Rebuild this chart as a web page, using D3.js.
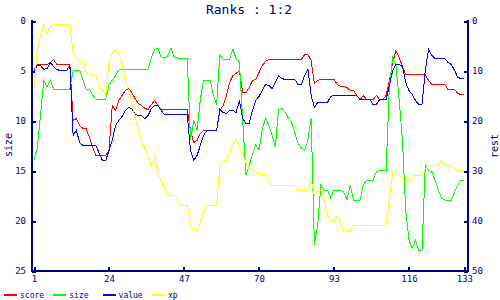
<!DOCTYPE html>
<html>
<meta charset="utf-8">
<style>
    body { margin: 0; background: #fff; }
    text { font-family: "DejaVu Sans Mono", monospace; fill: #000080; }
    .line { fill: none; stroke-width: 1; shape-rendering: crispEdges; }
</style>
<body>
<script src="https://cdn.jsdelivr.net/npm/d3@7"></script>
<div id="chart"></div>
<script>
// x positions 1..133
var xTicks = [1, 24, 47, 70, 93, 116, 133];
var sizeTicks = [0, 5, 10, 15, 20, 25];
var restTicks = [0, 10, 20, 30, 40, 50];

// size is read on the left axis, the rest on the right axis
var score = [
  9.9, 8.7, 8.7, 8.7, 8.7, 8.3, 7.7, 8.7, 8.7, 8.7,
  8.7, 8.7, 19.9, 19.5, 20.9, 21.5, 21.5, 23.3, 25.3, 26.9,
  26.9, 26.9, 26.9, 25.9, 16.9, 17.9, 15.9, 14.9, 13.9, 13.5,
  14.3, 15.5, 16.5, 16.9, 17.5, 17.7, 16.7, 15.9, 16.9, 17.7,
  17.7, 17.7, 17.7, 17.7, 17.7, 17.7, 17.7, 17.7, 21.9, 24.3,
  23.9, 22.5, 21.9, 21.9, 21.9, 21.9, 21.9, 17.9, 16.9, 14.9,
  12.3, 10.9, 10.5, 9.9, 14.3, 14.3, 13.3, 11.9, 11.7, 10.3,
  8.9, 8.1, 7.7, 7.7, 7.7, 7.7, 7.7, 7.7, 7.7, 7.7,
  7.7, 7.7, 7.7, 6.7, 6.7, 7.9, 12.5, 11.9, 11.7, 11.7,
  11.7, 11.7, 11.7, 12.7, 13.1, 13.1, 13.3, 13.9, 13.9, 14.9,
  15.7, 14.9, 15.7, 15.7, 15.7, 14.9, 15.7, 15.7, 14.9, 11.9,
  8.3, 5.9, 7.3, 9.1, 10.7, 10.7, 10.7, 10.7, 10.7, 10.7,
  10.7, 11.9, 12.7, 12.7, 12.7, 12.7, 12.7, 13.7, 13.7, 13.7,
  14.5, 14.7, 14.7
];
var size = [
  13.9, 12.7, 9.4, 6.0, 6.6, 5.9, 6.8, 6.8, 6.8, 6.8,
  6.8, 6.8, 4.9, 4.9, 4.9, 5.9, 6.8, 6.8, 7.4, 7.8,
  7.8, 7.8, 7.8, 6.4, 5.9, 5.5, 4.9, 4.8, 4.8, 4.8,
  4.8, 4.8, 4.8, 4.8, 4.8, 4.8, 3.7, 2.8, 2.7, 3.6,
  3.7, 3.5, 2.7, 3.6, 3.7, 3.7, 3.7, 3.7, 11.9, 9.9,
  10.9, 7.9, 5.9, 5.9, 5.9, 7.4, 8.4, 3.4, 3.8, 3.8,
  3.8, 2.8, 3.8, 4.1, 9.9, 15.4, 14.4, 13.4, 12.4, 12.9,
  10.9, 9.7, 10.4, 11.4, 12.6, 8.9, 8.7, 9.1, 9.7, 10.1,
  11.2, 12.2, 12.7, 12.9, 11.9, 9.7, 22.4, 20.4, 16.4, 16.9,
  16.9, 17.7, 16.9, 16.9, 16.9, 17.1, 17.9, 16.4, 17.9, 17.9,
  17.9, 16.4, 15.9, 15.9, 15.9, 15.1, 14.9, 14.9, 14.9, 6.4,
  3.7, 4.4, 7.9, 11.9, 18.9, 21.9, 22.7, 21.9, 22.9, 22.9,
  14.4, 14.9, 15.1, 15.9, 16.9, 17.7, 17.9, 17.9, 17.9, 17.1,
  16.4, 15.9, 15.9
];
var value = [
  10.3, 8.9, 8.9, 9.7, 9.5, 8.3, 9.1, 9.7, 9.9, 9.9,
  9.9, 8.9, 22.9, 21.9, 24.3, 24.9, 24.9, 24.9, 24.9, 24.9,
  26.5, 27.9, 27.9, 25.9, 23.9, 20.9, 19.9, 19.1, 17.9, 17.3,
  17.5, 18.7, 18.9, 18.9, 19.5, 18.9, 17.5, 16.9, 16.9, 17.9,
  18.7, 18.7, 18.7, 18.7, 18.7, 18.7, 18.7, 18.7, 25.9, 27.9,
  26.9, 24.9, 22.9, 21.9, 21.9, 21.9, 21.9, 17.7, 18.3, 18.5,
  17.9, 17.9, 18.3, 15.9, 19.5, 20.5, 20.5, 17.9, 15.9, 15.1,
  13.9, 12.7, 12.9, 13.5, 12.3, 10.9, 11.5, 11.7, 11.7, 11.7,
  11.7, 12.7, 12.7, 10.9, 9.7, 14.9, 17.3, 16.3, 16.3, 16.3,
  16.3, 15.1, 14.9, 14.9, 14.9, 14.9, 14.9, 14.9, 14.9, 14.9,
  15.7, 15.7, 15.7, 15.7, 16.7, 16.7, 15.7, 15.7, 15.7, 12.9,
  9.9, 8.7, 8.7, 9.1, 12.3, 13.9, 14.7, 15.9, 16.7, 16.7,
  9.9, 5.7, 6.9, 7.5, 7.5, 7.5, 7.5, 8.3, 8.7, 9.9,
  11.3, 11.5, 11.5
];
var xp = [
  13.5, 6, 2.9, 0.7, 2.5, 1.2, 0.7, 0.7, 0.7, 0.7,
  0.7, 0.7, 6.2, 7.5, 7.9, 7.9, 10.2, 10.7, 10.7, 11,
  13.3, 13.7, 14.9, 8.5, 6.5, 5.7, 6.5, 8.5, 11.9, 13.9,
  16.5, 19.2, 21.9, 24.2, 25.4, 27.3, 28.9, 27.1, 30.5, 31.9,
  33.3, 34.7, 34.9, 34.9, 35.5, 36.9, 36.9, 36.9, 40.9, 41.9,
  41.9, 40.3, 38.5, 37.1, 36.9, 36.9, 36.9, 28.9, 27.9, 27.9,
  26.3, 24.9, 23.7, 25.1, 26.9, 28.3, 29.7, 29.9, 30.1, 30.7,
  30.7, 30.7, 31.9, 32.9, 32.9, 32.9, 32.9, 32.9, 32.9, 32.9,
  32.9, 33.9, 33.9, 33.9, 33.9, 31.9, 34.9, 33.9, 33.9, 35.9,
  38.9, 39.9, 39.9, 38.9, 40.3, 41.9, 41.9, 41.9, 40.9, 40.9,
  40.9, 40.9, 40.9, 40.9, 40.9, 40.9, 40.9, 40.9, 40.9, 35.5,
  30.3, 29.9, 30.7, 31.7, 31.9, 31.9, 31.1, 30.9, 30.9, 30.9,
  29.5, 28.9, 28.9, 28.9, 28.9, 27.9, 28.7, 28.9, 28.9, 29.5,
  29.9, 29.9, 29.9
];

var names = ["score", "size", "value", "xp"];
var colors = ["#ff0000", "#00ff00", "#0000ff", "#ffff00"];

var width = 500, height = 300;
var plotLeft = 32, plotRight = 468, plotTop = 21, plotBottom = 271;

var svg = d3.select("#chart").append("svg")
    .attr("width", width)
    .attr("height", height);

var x = d3.scaleLinear().domain([1, 133]).range([34, 464.4]);
var ySize = d3.scaleLinear().domain([0, 25]).range([plotTop, plotBottom]);
var yRest = d3.scaleLinear().domain([0, 50]).range([plotTop, plotBottom]);

// title
svg.append("text")
    .attr("x", 249)
    .attr("y", 14)
    .attr("text-anchor", "middle")
    .style("font-size", "13px")
    .text("Ranks : 1:2");

// axes
var gLeft = svg.append("g")
    .attr("transform", "translate(" + plotLeft + ",0)")
    .call(d3.axisLeft(ySize).tickValues(sizeTicks).tickSizeInner(-4).tickSizeOuter(0).tickPadding(6));
var gRight = svg.append("g")
    .attr("transform", "translate(" + plotRight + ",0)")
    .call(d3.axisRight(yRest).tickValues(restTicks).tickSizeInner(-4).tickSizeOuter(0).tickPadding(4));
var gBottom = svg.append("g")
    .attr("transform", "translate(0," + plotBottom + ")")
    .call(d3.axisBottom(x).tickValues(xTicks).tickSizeInner(-4).tickSizeOuter(0).tickPadding(5));

[gLeft, gRight, gBottom].forEach(function(g) {
    g.select(".domain").remove();
    g.selectAll("line").attr("stroke", "#000080").attr("stroke-width", 2).style("shape-rendering", "crispEdges");
    g.selectAll("text").attr("fill", "#000080").style("font-size", "9px").style("font-family", "DejaVu Sans Mono");
});

// axis lines
var axisLines = [
    [plotLeft, plotTop - 1, plotLeft, plotBottom + 1],
    [plotRight, plotTop - 1, plotRight, plotBottom + 1],
    [plotLeft, plotBottom, plotRight, plotBottom]
];
svg.selectAll(".axisline")
    .data(axisLines)
    .enter().append("line")
    .attr("class", "axisline")
    .attr("x1", function(d) { return d[0]; })
    .attr("y1", function(d) { return d[1]; })
    .attr("x2", function(d) { return d[2]; })
    .attr("y2", function(d) { return d[3]; })
    .attr("stroke", "#000080")
    .attr("stroke-width", 2)
    .style("shape-rendering", "crispEdges");

// axis titles
svg.append("text")
    .attr("transform", "translate(12,145) rotate(-90)")
    .attr("text-anchor", "middle")
    .style("font-size", "10px")
    .text("size");
svg.append("text")
    .attr("transform", "translate(498,146) rotate(-90)")
    .attr("text-anchor", "middle")
    .style("font-size", "10px")
    .text("rest");

// series lines
var series = [
    {name: "score", data: score, y: yRest},
    {name: "size", data: size, y: ySize},
    {name: "value", data: value, y: yRest},
    {name: "xp", data: xp, y: yRest}
];

series.forEach(function(s, k) {
    var line = d3.line()
        .x(function(d, i) { return x(i + 1); })
        .y(function(d) { return s.y(d); });
    svg.append("path")
        .datum(s.data)
        .attr("class", "line")
        .attr("stroke", colors[k])
        .attr("d", line);
});

// legend
var legend = svg.selectAll(".legend")
    .data(names)
    .enter().append("g")
    .attr("class", "legend")
    .attr("transform", function(d, i) { return "translate(" + (4 + i * 49.3) + ",295)"; });
legend.append("line")
    .attr("x1", 0).attr("x2", 13)
    .attr("y1", 0).attr("y2", 0)
    .attr("stroke", function(d, i) { return colors[i]; })
    .attr("stroke-width", 2)
    .style("shape-rendering", "crispEdges");
legend.append("text")
    .attr("x", 16)
    .attr("y", 3)
    .style("font-size", "8px")
    .text(function(d) { return d; });
</script>
</body>
</html>
